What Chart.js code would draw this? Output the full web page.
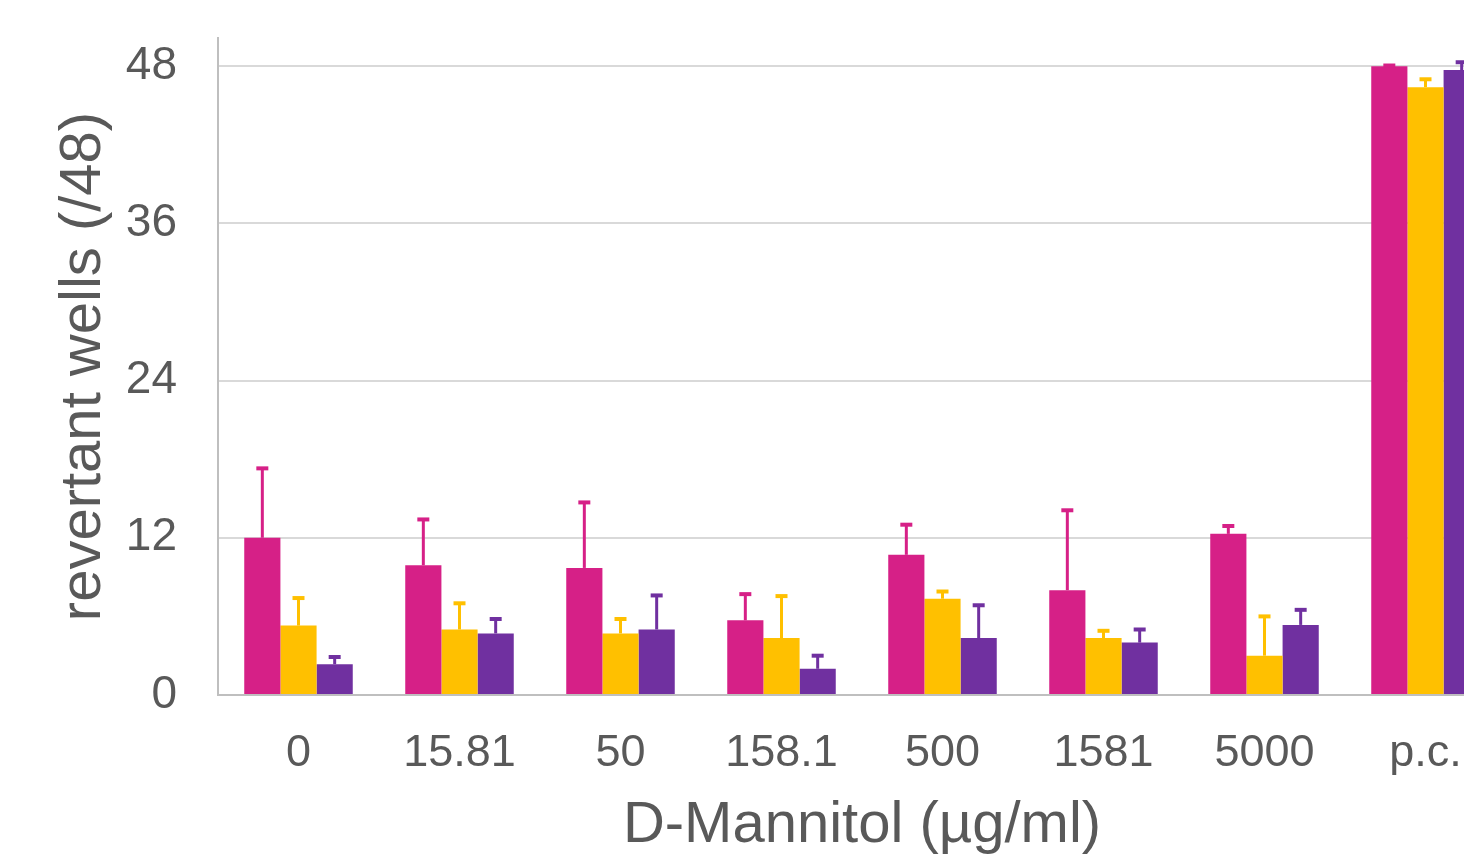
<!DOCTYPE html>
<html>
<head>
<meta charset="utf-8">
<title>D-Mannitol revertant wells</title>
<script src="https://cdn.jsdelivr.net/npm/chart.js@4"></script>
<style>
  html, body { margin: 0; padding: 0; overflow: hidden; background: #ffffff; }
  #wrap { width: 1464px; height: 855px; overflow: hidden; }
  canvas { display: block; }
</style>
</head>
<body>
<div id="wrap"><canvas id="chart" width="1516" height="855"></canvas></div>
<script>
// Concentrations on the x axis (last group: positive control)
const categories = ['0', '15.81', '50', '158.1', '500', '1581', '5000', 'p.c.'];

// Mean revertant wells per concentration, one array per series
const seriesA = [12.0, 9.9, 9.7, 5.7, 10.7, 8.0, 12.3, 48.0];
const seriesB = [5.3, 5.0, 4.7, 4.35, 7.35, 4.35, 3.0, 46.4];
const seriesC = [2.35, 4.7, 5.0, 2.0, 4.35, 4.0, 5.35, 47.7];

// Upper error (standard deviation) for each series
const errorA = [5.3, 3.5, 5.0, 2.0, 2.3, 6.1, 0.6, 0.05];
const errorB = [2.1, 2.0, 1.1, 3.2, 0.55, 0.55, 3.0, 0.6];
const errorC = [0.55, 1.1, 2.6, 1.0, 2.5, 1.0, 1.15, 0.6];

// Tick values on the y axis
const yTicks = [0, 12, 24, 36, 48];

const colors = ['#D62087', '#FFC000', '#7030A0'];
const textColor = '#595959';
const fontFamily = '"Liberation Sans", Arial, sans-serif';

// Draws upward error bars with caps on top of each bar
const errorBarPlugin = {
  id: 'errorBars',
  afterDatasetsDraw(chart) {
    const ctx = chart.ctx;
    const yScale = chart.scales.y;
    chart.data.datasets.forEach((ds, i) => {
      const meta = chart.getDatasetMeta(i);
      ctx.save();
      ctx.strokeStyle = ds.backgroundColor;
      meta.data.forEach((bar, j) => {
        const v = ds.data[j];
        const e = ds.errors[j];
        const yTop = yScale.getPixelForValue(v + e);
        const yBase = yScale.getPixelForValue(v);
        const x = bar.x;
        ctx.lineWidth = 3;
        ctx.beginPath();
        ctx.moveTo(x, yBase);
        ctx.lineTo(x, yTop);
        ctx.stroke();
        ctx.lineWidth = 4;
        ctx.beginPath();
        ctx.moveTo(x - 6, yTop);
        ctx.lineTo(x + 6, yTop);
        ctx.stroke();
      });
      ctx.restore();
    });
  }
};

new Chart(document.getElementById('chart'), {
  type: 'bar',
  data: {
    labels: categories,
    datasets: [
      { data: seriesA, errors: errorA, backgroundColor: colors[0] },
      { data: seriesB, errors: errorB, backgroundColor: colors[1] },
      { data: seriesC, errors: errorC, backgroundColor: colors[2] }
    ]
  },
  options: {
    responsive: false,
    animation: false,
    devicePixelRatio: 1,
    layout: { padding: { top: 38, right: 10, bottom: 0, left: 0 } },
    plugins: {
      legend: { display: false },
      tooltip: { enabled: false },
      title: { display: false }
    },
    datasets: {
      bar: { categoryPercentage: 0.674, barPercentage: 1.0, borderWidth: 0 }
    },
    scales: {
      x: {
        grid: { display: false, drawTicks: false },
        border: { display: true, color: '#BFBFBF', width: 2 },
        ticks: {
          color: textColor,
          padding: 32,
          maxRotation: 0,
          autoSkip: false,
          font: { family: fontFamily, size: 45 }
        },
        title: {
          display: true,
          text: 'D-Mannitol (µg/ml)',
          color: textColor,
          padding: { top: 0, bottom: 0 },
          font: { family: fontFamily, size: 58, lineHeight: 1 }
        },
        afterFit(scale) {
          scale.height = 160;
          scale.paddingLeft = 0;
          scale.paddingRight = 0;
        }
      },
      y: {
        min: 0,
        max: 50.15,
        grid: { color: '#D9D9D9', lineWidth: 2, drawTicks: false },
        border: { display: true, color: '#BFBFBF', width: 2 },
        afterBuildTicks(scale) { scale.ticks = yTicks.map(v => ({ value: v })); },
        ticks: {
          color: textColor,
          padding: 41,
          font: { family: fontFamily, size: 46 }
        },
        title: {
          display: true,
          text: 'revertant wells (/48)',
          color: textColor,
          padding: { top: 55, bottom: 0 },
          font: { family: fontFamily, size: 58, lineHeight: 1 }
        },
        afterFit(scale) {
          scale.width = 218;
          scale.paddingTop = 0;
          scale.paddingBottom = 0;
        }
      }
    }
  },
  plugins: [errorBarPlugin]
});
</script>
</body>
</html>
